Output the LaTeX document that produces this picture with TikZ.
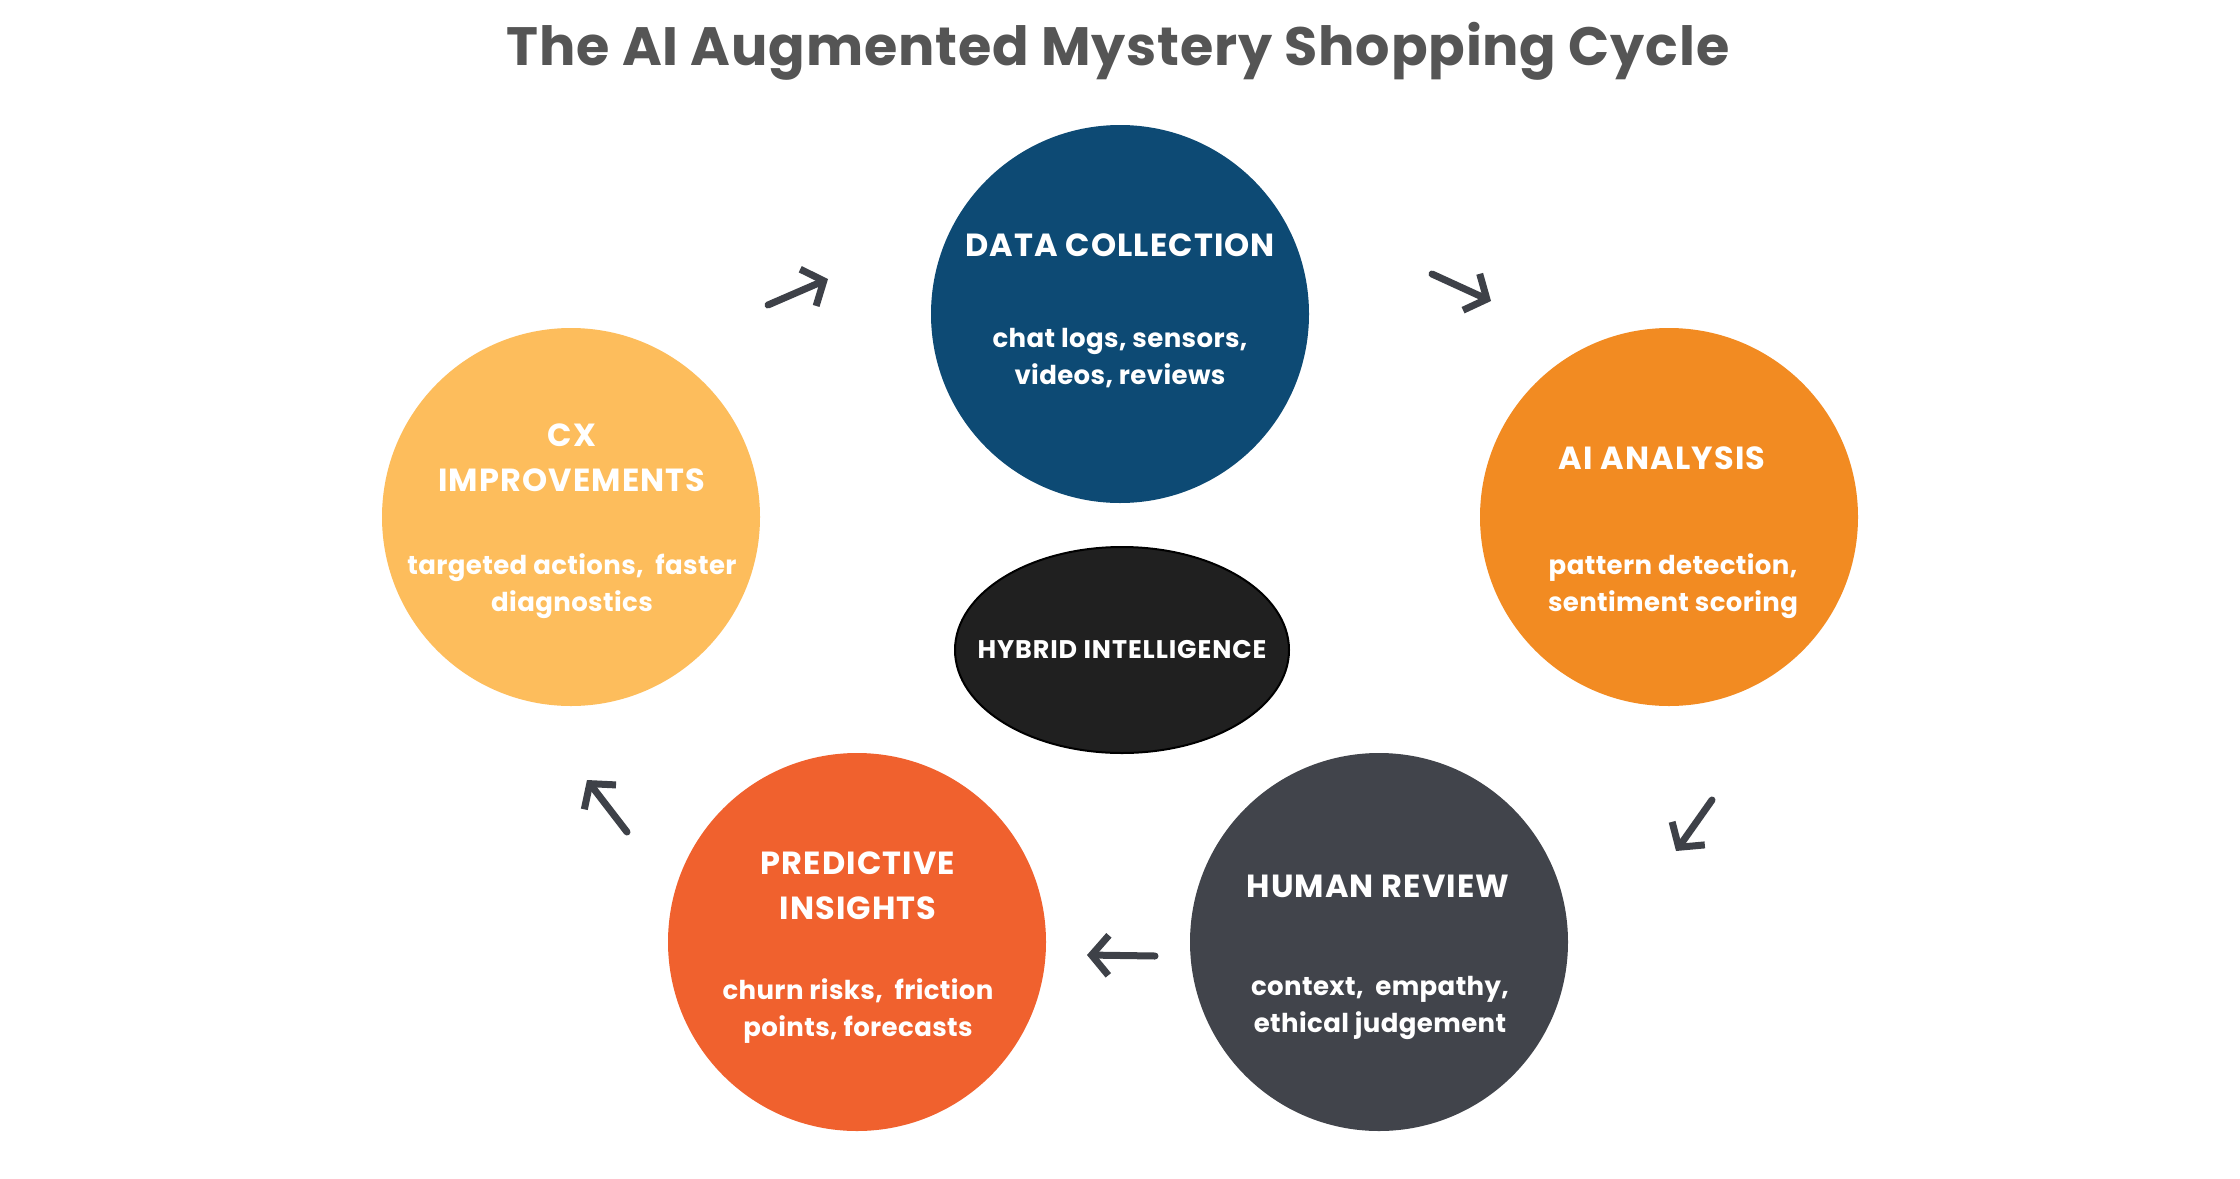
\documentclass[tikz,border=0pt]{standalone}
\usepackage{fontspec}
\setmainfont{Poppins}
\newfontfamily\widefont{Poppins}[LetterSpace=3.5]
\newfontfamily\midfont{Poppins}[LetterSpace=1.5]
\usetikzlibrary{arrows.meta,shapes.geometric}
\definecolor{dcblue}{HTML}{0D4A74}
\definecolor{aiorange}{HTML}{F28B22}
\definecolor{hrgray}{HTML}{41444B}
\definecolor{pired}{HTML}{F0612E}
\definecolor{cxyellow}{HTML}{FDBD5C}
\definecolor{hybblack}{HTML}{202020}
\definecolor{arrowgray}{HTML}{3E4148}
\definecolor{titlegray}{HTML}{555555}
\tikzset{
  stage/.style={circle, minimum size=378pt, inner sep=0pt, draw=none},
  headtxt/.style={text=white, align=center, inner sep=0pt, font=\widefont\bfseries\fontsize{32}{45}\selectfont},
  bodytxt/.style={text=white, align=center, inner sep=0pt, font=\midfont\bfseries\fontsize{26}{37}\selectfont},
  cyclearrow/.style={draw=arrowgray, line width=7pt, line cap=round, line join=round,
    -{Straight Barb[length=17pt,width=40pt,line width=7pt]}},
}
\begin{document}
\begin{tikzpicture}[x=1pt,y=-1pt]
\useasboundingbox[fill=white] (0,0) rectangle (2240,1178);
% title
\node[text=titlegray, font=\midfont\bfseries\fontsize{54}{60}\selectfont, inner sep=0pt] (title) at (1118,51) {The AI Augmented Mystery Shopping Cycle};
% circles
\node[stage, fill=dcblue] (dc) at (1120,314) {};
\node[stage, fill=aiorange] (ai) at (1669,517) {};
\node[stage, fill=hrgray] (hr) at (1379,942) {};
\node[stage, fill=pired] (pi) at (857,942) {};
\node[stage, fill=cxyellow] (cx) at (571,517) {};
% hybrid
\node[ellipse, minimum width=334pt, minimum height=206pt, inner sep=0pt, fill=hybblack, draw=black, line width=2pt] (hyb) at (1122,650) {};
\node[text=white, inner sep=0pt, font=\widefont\bfseries\fontsize{25.5}{28}\selectfont] (hybt) at (hyb.center) {HYBRID INTELLIGENCE};
% texts
\node[headtxt] (dch) at (1120,245) {DATA COLLECTION};
\node[bodytxt] (dcb) at (1120,358) {chat logs, sensors,\\videos, reviews};
\node[headtxt] (aih) at (1662,458) {AI ANALYSIS};
\node[bodytxt] (aib) at (1673,586) {pattern detection,\\sentiment scoring};
\node[headtxt] (hrh) at (1378,886) {HUMAN REVIEW};
\node[bodytxt] (hrb) at (1380,1008) {context,\ \ empathy,\\ethical judgement};
\node[headtxt] (pih) at (858,886) {PREDICTIVE\\INSIGHTS};
\node[bodytxt] (pib) at (858,1011) {churn risks,\ \ friction\\points, forecasts};
\node[headtxt] (cxh) at (572,458) {CX\\IMPROVEMENTS};
\node[bodytxt] (cxb) at (572,586) {targeted actions,\ \ faster\\diagnostics};
% arrow endpoints
\coordinate (a1s) at (768,305); \coordinate (a1e) at (828,279);
\coordinate (a2s) at (1432,274); \coordinate (a2e) at (1491,301);
\coordinate (a3s) at (1712,800); \coordinate (a3e) at (1676,851);
\coordinate (a4s) at (1155,956); \coordinate (a4e) at (1087,955);
\coordinate (a5s) at (627,832); \coordinate (a5e) at (587,780);
\draw[cyclearrow] (a1s) -- (a1e);
\draw[cyclearrow] (a2s) -- (a2e);
\draw[cyclearrow] (a3s) -- (a3e);
\draw[cyclearrow] (a4s) -- (a4e);
\draw[cyclearrow] (a5s) -- (a5e);
\end{tikzpicture}
\end{document}
